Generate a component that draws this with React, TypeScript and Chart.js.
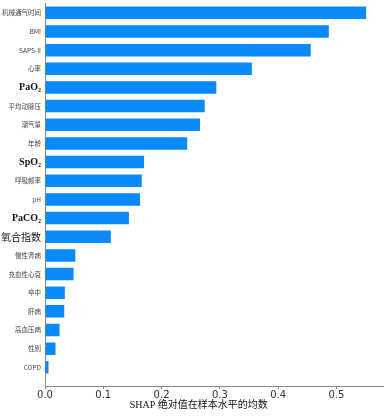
import React, { useEffect, useRef } from "react";
import { Chart, registerables } from "chart.js";

Chart.register(...registerables);

const features = [
  "机械通气时间", "BMI", "SAPS-II", "心率", "PaO₂", "平均动脉压", "潮气量", "年龄",
  "SpO₂", "呼吸频率", "pH", "PaCO₂", "氧合指数", "慢性肾病", "充血性心衰", "卒中",
  "肝病", "高血压病", "性别", "COPD",
];
const meanAbsShap = [
  0.551, 0.487, 0.456, 0.355, 0.294, 0.274, 0.266, 0.244,
  0.170, 0.166, 0.163, 0.144, 0.113, 0.052, 0.049, 0.034,
  0.033, 0.025, 0.018, 0.006,
];
const xTicks = [0, 0.1, 0.2, 0.3, 0.4, 0.5];
const xTitle = "SHAP 绝对值在样本水平的均数";

const serifLabels = ["PaO₂", "SpO₂", "PaCO₂"];
const bigLabels = ["氧合指数"];

export default function App() {
  const ref = useRef<HTMLCanvasElement>(null);
  useEffect(() => {
    if (!ref.current) return;
    const titlePlugin = {
      id: "xTitle",
      afterDraw(chart: any) {
        const { ctx, chartArea } = chart;
        ctx.save();
        ctx.font = "10px 'Liberation Serif', 'Noto Sans CJK SC', serif";
        ctx.fillStyle = "#111";
        ctx.textAlign = "center";
        ctx.textBaseline = "middle";
        const cx = chartArea.left + (chartArea.right - chartArea.left) * 0.455;
        ctx.fillText(xTitle, cx, chartArea.bottom + 19);
        ctx.restore();
      },
    };
    const chart = new Chart(ref.current, {
      type: "bar",
      data: {
        datasets: [
          {
            data: meanAbsShap.map((v, i) => ({ x: v, y: i })),
            backgroundColor: "#0a8af8",
            borderWidth: 0,
            categoryPercentage: 1,
            barPercentage: 0.67,
          },
        ],
      },
      options: {
        indexAxis: "y",
        animation: false,
        responsive: false,
        maintainAspectRatio: false,
        layout: { padding: { top: 3.5, right: 4, left: 0, bottom: 0 } },
        plugins: { legend: { display: false }, tooltip: { enabled: false }, title: { display: false } },
        scales: {
          x: {
            type: "linear",
            bounds: "data",
            min: 0,
            max: 0.58,
            afterBuildTicks: (scale: any) => {
              scale.ticks = xTicks.map((v) => ({ value: v }));
            },
            ticks: {
              includeBounds: false,
              callback: (v: any) => Number(v).toFixed(1),
              font: { family: "'DejaVu Sans', sans-serif", size: 10 },
              color: "#333",
              padding: 0,
            },
            grid: { drawOnChartArea: false, drawTicks: true, tickLength: 3, color: "#888" },
            border: { display: true, color: "#888", width: 1 },
            afterFit: (scale: any) => {
              scale.height = 30;
              scale.paddingLeft = 0;
              scale.paddingRight = 0;
            },
          },
          y: {
            type: "linear",
            bounds: "data",
            offset: false,
            reverse: true,
            min: -0.5,
            max: features.length,
            afterBuildTicks: (scale: any) => {
              scale.ticks = features.map((_, i) => ({ value: i }));
            },
            ticks: {
              callback: (v: any) => features[v] ?? "",
              autoSkip: false,
              padding: 4,
              color: (c: any) => {
                const l = features[c.tick?.value];
                return serifLabels.includes(l) || bigLabels.includes(l) ? "#111" : "#444";
              },
              font: (c: any) => {
                const l = features[c.tick?.value];
                if (serifLabels.includes(l)) return { family: "'Liberation Serif', serif", size: 10, weight: "bold" };
                if (bigLabels.includes(l)) return { family: "'Noto Sans CJK SC', sans-serif", size: 10, weight: "normal" };
                return { family: "'Noto Sans CJK SC', 'DejaVu Sans', sans-serif", size: 6.5 };
              },
            },
            grid: { display: false, drawTicks: false, offset: false },
            border: { display: true, color: "#888", width: 1 },
            afterFit: (scale: any) => {
              scale.width = 45;
              scale.paddingTop = 0;
              scale.paddingBottom = 0;
            },
          },
        },
      },
      plugins: [titlePlugin],
    } as any);
    return () => chart.destroy();
  }, []);
  return (
    <div style={{ position: "absolute", left: 0, top: 0, width: 387, height: 416, background: "#fff" }}>
      <canvas ref={ref} width={387} height={416} style={{ width: 387, height: 416 }} />
    </div>
  );
}
